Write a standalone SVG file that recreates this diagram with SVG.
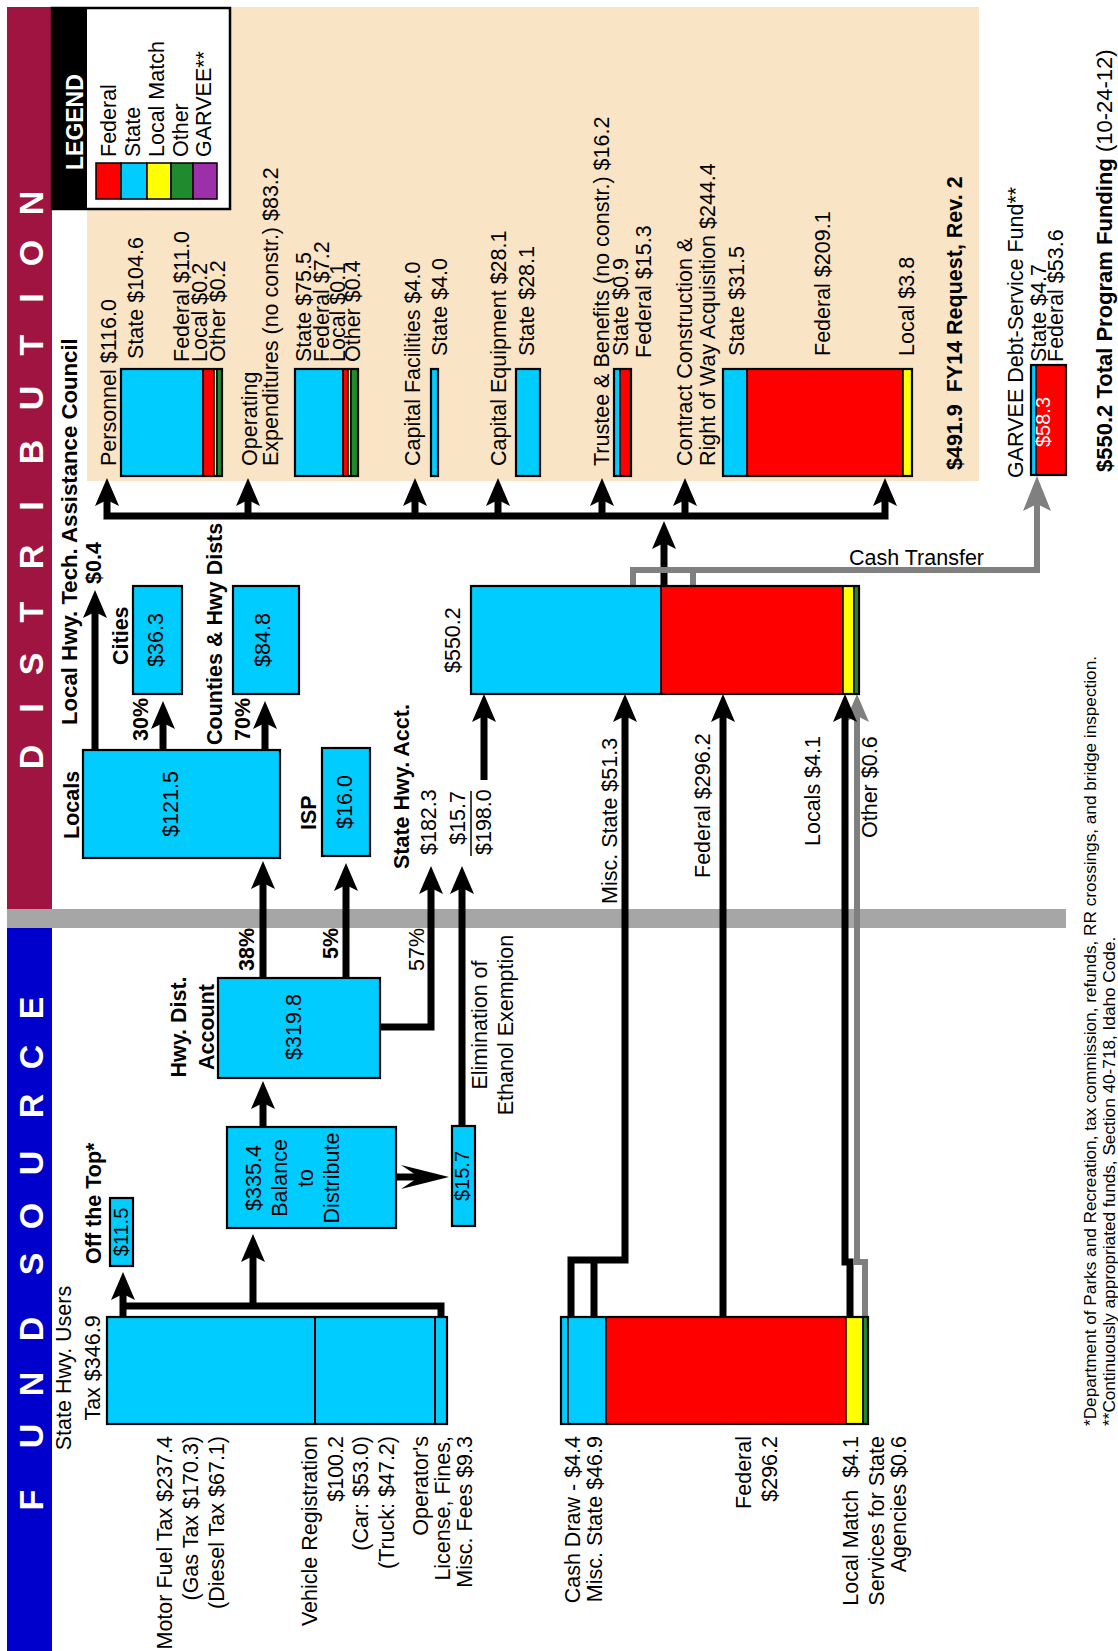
<svg xmlns="http://www.w3.org/2000/svg" width="1118" height="1651" viewBox="0 0 1118 1651">
<defs>
<style>
text{font-family:"Liberation Sans",Arial,Helvetica,sans-serif;font-size:21.5px;fill:#000}
.b{font-weight:bold}
.m{text-anchor:middle}
.e{text-anchor:end}
.ban{font-size:34px;font-weight:bold;fill:#fff;text-anchor:middle}
.sm{font-size:20px}
.fn{font-size:17.2px}
.cy{fill:#00CCFF}
.rd{fill:#FF0000}
.yl{fill:#FFFF00}
.gn{fill:#1E8C2E}
.pu{fill:#9B30A8}
.seg{stroke:#000;stroke-width:1.5}
.box{stroke:#000;stroke-width:2.2}
.ol{fill:none;stroke:#000;stroke-width:2.2}
.ln{fill:none;stroke:#000;stroke-width:7}
.gl{fill:none;stroke:#808080;stroke-width:6}
</style>
<path id="ah" d="M0,0 L12,28 L0,22 L-12,28 Z"/>
<path id="ahg" d="M0,0 L14,35 L0,28 L-14,35 Z"/>
</defs>
<rect width="1118" height="1651" fill="#fff"/>

<!-- side banners -->
<g id="banner">
<rect x="7" y="7" width="45" height="902" fill="#A01441"/>
<rect x="7" y="928" width="45" height="723" fill="#0000CC"/>
<text class="ban" transform="translate(43,0) rotate(-90)" x="-757 -708 -664 -612 -557 -506 -452 -398 -345 -298 -253 -203">DISTRIBUTION</text>
<text class="ban" transform="translate(43,0) rotate(-90)" x="-1500 -1436 -1384 -1329 -1264 -1216 -1163 -1106 -1057 -1008">FUNDSOURCE</text>
</g>

<!-- distribution panel background -->
<rect id="panel" x="87" y="7" width="892" height="474" fill="#FAE4C6"/>

<!-- divider between sources and distribution -->
<rect id="divider" x="7" y="909" width="1059" height="19" fill="#A6A6A6"/>

<g id="legend">
<rect x="52" y="8" width="178" height="201" fill="#fff" stroke="#000" stroke-width="2.5"/>
<rect x="52" y="8" width="35" height="201" fill="#000"/>
<text class="b" transform="translate(83,170) rotate(-90)" style="font-size:23px;fill:#fff">LEGEND</text>
<rect class="rd seg" x="96" y="163" width="25" height="36"/>
<rect class="cy seg" x="121" y="163" width="26" height="36"/>
<rect class="yl seg" x="147" y="163" width="24" height="36"/>
<rect class="gn seg" x="171" y="163" width="22" height="36"/>
<rect class="pu seg" x="193" y="163" width="24" height="36"/>
<text transform="translate(116,157) rotate(-90)">Federal</text>
<text transform="translate(140,157) rotate(-90)">State</text>
<text transform="translate(164,157) rotate(-90)">Local Match</text>
<text transform="translate(188,157) rotate(-90)">Other</text>
<text transform="translate(211,157) rotate(-90)">GARVEE**</text>
</g>

<!-- connectors -->
<g id="connectors">
<!-- distribution bus -->
<path class="ln" d="M103.5,516 H888.5 M107,516 V500 M248,516 V500 M415,516 V500 M498,516 V500 M602,516 V500 M685,516 V500 M885,516 V500"/>
<use href="#ah" x="107" y="478"/>
<use href="#ah" x="248" y="478"/>
<use href="#ah" x="415" y="478"/>
<use href="#ah" x="498" y="478"/>
<use href="#ah" x="602" y="478"/>
<use href="#ah" x="685" y="478"/>
<use href="#ah" x="885" y="478"/>
<!-- program total to bus -->
<path class="ln" d="M664,586 V543"/>
<use href="#ah" x="664" y="521"/>
<!-- cash transfer to GARVEE -->
<path class="gl" d="M633,586 V570 H1037 V504 M693,586 V570"/>
<use href="#ahg" x="1037" y="476" fill="#808080"/>
<!-- locals -->
<path class="ln" d="M95,750 V612 M163,750 V723 M265,750 V723"/>
<use href="#ah" x="95" y="590"/>
<use href="#ah" x="163" y="701"/>
<use href="#ah" x="265" y="701"/>
<!-- highway distribution account -->
<path class="ln" d="M263,978 V883 M346,978 V885 M380,1027 H431 V888 M462,1126 V888 M263,1128 V1103"/>
<use href="#ah" x="263" y="861"/>
<use href="#ah" x="346" y="863"/>
<use href="#ah" x="431" y="866"/>
<use href="#ah" x="462" y="866"/>
<use href="#ah" x="263" y="1081"/>
<path class="ln" d="M396,1177 H422"/>
<path d="M449,1177 L401,1165 L419,1177 L401,1189 Z"/>
<!-- users tax bus -->
<path class="ln" d="M441,1317 V1306 H123 M123,1317 V1294 M253,1306 V1256"/>
<use href="#ah" x="123" y="1272"/>
<use href="#ah" x="253" y="1234"/>
<!-- into program total -->
<path class="ln" d="M484,780 V716 M571,1317 V1260 H625 V716 M594,1317 V1260 M723,1317 V716"/>
<use href="#ah" x="484" y="694"/>
<use href="#ah" x="625" y="694"/>
<use href="#ah" x="723" y="694"/>
<path class="gl" d="M865,1317 V1262 H857 V716"/>
<use href="#ah" x="857" y="694" fill="#808080"/>
<path class="ln" d="M850,1317 V1262 H845 V716"/>
<use href="#ah" x="845" y="694"/>
<text x="849" y="565">Cash Transfer</text>
</g>

<!-- distribution categories -->
<g id="personnel">
<rect class="cy seg" x="121" y="369" width="82" height="107"/>
<rect class="rd seg" x="203" y="369" width="11" height="107"/>
<rect class="yl seg" x="214" y="369" width="3" height="107"/>
<rect class="gn seg" x="217" y="369" width="5" height="107"/>
<rect class="ol" x="121" y="369" width="101" height="107"/>
<text transform="translate(116,466) rotate(-90)">Personnel $116.0</text>
<text transform="translate(143,359) rotate(-90)">State $104.6</text>
<text transform="translate(189,362) rotate(-90)">Federal $11.0</text>
<text transform="translate(207,362) rotate(-90)">Local $0.2</text>
<text transform="translate(225,362) rotate(-90)">Other $0.2</text>
</g>

<g id="operating">
<rect class="cy seg" x="295" y="369" width="48" height="107"/>
<rect class="rd seg" x="343" y="369" width="5" height="107"/>
<rect class="yl seg" x="348" y="369" width="3" height="107"/>
<rect class="gn seg" x="351" y="369" width="7" height="107"/>
<rect class="ol" x="295" y="369" width="63" height="107"/>
<text transform="translate(257,466) rotate(-90)">Operating</text>
<text transform="translate(278,466) rotate(-90)">Expenditures (no constr.) $83.2</text>
<text transform="translate(311,362) rotate(-90)">State $75.5</text>
<text transform="translate(329,362) rotate(-90)">Federal $7.2</text>
<text transform="translate(345,362) rotate(-90)">Local $0.1</text>
<text transform="translate(360,362) rotate(-90)">Other $0.4</text>
</g>

<g id="capital-facilities">
<rect class="cy box" x="431" y="369" width="7" height="107"/>
<text transform="translate(420,466) rotate(-90)">Capital Facilities $4.0</text>
<text transform="translate(447,356) rotate(-90)">State $4.0</text>
</g>

<g id="capital-equipment">
<rect class="cy box" x="516" y="369" width="24" height="107"/>
<text transform="translate(506,466) rotate(-90)">Capital Equipment $28.1</text>
<text transform="translate(534,356) rotate(-90)">State $28.1</text>
</g>

<g id="trustee-benefits">
<rect class="cy seg" x="614" y="369" width="6" height="107"/>
<rect class="rd seg" x="620" y="369" width="11" height="107"/>
<rect class="ol" x="614" y="369" width="17" height="107"/>
<text transform="translate(609,466) rotate(-90)">Trustee &amp; Benefits (no constr.) $16.2</text>
<text transform="translate(628,356) rotate(-90)">State $0.9</text>
<text transform="translate(651,358) rotate(-90)">Federal $15.3</text>
</g>

<g id="contract-construction">
<rect class="cy seg" x="723" y="369" width="24" height="107"/>
<rect class="rd seg" x="747" y="369" width="156" height="107"/>
<rect class="yl seg" x="903" y="369" width="9" height="107"/>
<rect class="ol" x="723" y="369" width="189" height="107"/>
<text transform="translate(692,466) rotate(-90)">Contract Construction &amp;</text>
<text transform="translate(715,466) rotate(-90)">Right of Way Acquisition $244.4</text>
<text transform="translate(744,356) rotate(-90)">State $31.5</text>
<text transform="translate(830,356) rotate(-90)">Federal $209.1</text>
<text transform="translate(914,356) rotate(-90)">Local $3.8</text>
</g>

<g id="fy14-request">
<text class="b" transform="translate(962,470) rotate(-90)">$491.9&#160; FY14 Request, Rev. 2</text>
</g>

<g id="garvee">
<rect class="cy seg" x="1031" y="365" width="5" height="110"/>
<rect class="rd seg" x="1036" y="365" width="30" height="110"/>
<rect class="ol" x="1031" y="365" width="35" height="110"/>
<text class="sm" transform="translate(1050,447) rotate(-90)" style="fill:#fff">$58.3</text>
<text transform="translate(1023,478) rotate(-90)">GARVEE Debt-Service Fund**</text>
<text transform="translate(1046,362) rotate(-90)">State $4.7</text>
<text transform="translate(1063,362) rotate(-90)">Federal $53.6</text>
</g>

<g id="total-funding">
<text transform="translate(1112,472) rotate(-90)" style="font-size:22px"><tspan class="b">$550.2 Total Program Funding</tspan> (10-24-12)</text>
</g>

<!-- locals -->
<g id="locals">
<rect class="cy box" x="83" y="750" width="197" height="108"/>
<text class="b" transform="translate(79,839) rotate(-90)">Locals</text>
<text class="m" transform="translate(178,804) rotate(-90)">$121.5</text>
<text class="b" transform="translate(77,725) rotate(-90)" style="font-size:22.2px">Local Hwy. Tech. Assistance Council</text>
<text class="b" transform="translate(101,584) rotate(-90)">$0.4</text>
</g>
<g id="cities">
<rect class="cy box" x="133" y="586" width="49" height="108"/>
<text class="m" transform="translate(163,640) rotate(-90)">$36.3</text>
<text class="b" transform="translate(128,665) rotate(-90)">Cities</text>
<text class="b" transform="translate(148,741) rotate(-90)">30%</text>
</g>
<g id="counties">
<rect class="cy box" x="233" y="586" width="66" height="108"/>
<text class="m" transform="translate(270,640) rotate(-90)">$84.8</text>
<text class="b" transform="translate(222,745) rotate(-90)">Counties &amp; Hwy Dists</text>
<text class="b" transform="translate(250,741) rotate(-90)">70%</text>
</g>
<g id="isp">
<rect class="cy box" x="322" y="748" width="48" height="108"/>
<text class="m" transform="translate(352,802) rotate(-90)">$16.0</text>
<text class="b" transform="translate(316,830) rotate(-90)">ISP</text>
</g>

<g id="state-hwy-acct">
<text class="b" transform="translate(409,869) rotate(-90)">State Hwy. Acct.</text>
<text transform="translate(436,855) rotate(-90)">$182.3</text>
<text class="e" transform="translate(465,791) rotate(-90)">$15.7</text>
<line x1="471" y1="856" x2="471" y2="791" stroke="#000" stroke-width="1.5"/>
<text transform="translate(491,855) rotate(-90)">$198.0</text>
</g>

<g id="program-total">
<rect class="cy seg" x="471" y="586" width="190" height="108"/>
<rect class="rd seg" x="661" y="586" width="182" height="108"/>
<rect class="yl seg" x="843" y="586" width="11" height="108"/>
<rect class="gn seg" x="854" y="586" width="5" height="108"/>
<rect class="ol" x="471" y="586" width="388" height="108"/>
<text transform="translate(460,673) rotate(-90)">$550.2</text>
<text transform="translate(617,904) rotate(-90)">Misc. State $51.3</text>
<text transform="translate(710,878) rotate(-90)">Federal $296.2</text>
<text transform="translate(820,846) rotate(-90)">Locals $4.1</text>
<text transform="translate(877,838) rotate(-90)">Other $0.6</text>
</g>

<!-- fund sources -->
<g id="hwy-dist-account">
<rect class="cy box" x="218" y="978" width="162" height="100"/>
<text class="m" transform="translate(301,1027) rotate(-90)">$319.8</text>
<text class="b m" transform="translate(186,1027) rotate(-90)">Hwy. Dist.</text>
<text class="b m" transform="translate(214,1027) rotate(-90)">Account</text>
<text class="b" transform="translate(254,971) rotate(-90)">38%</text>
<text class="b" transform="translate(338,959) rotate(-90)">5%</text>
<text transform="translate(424,971) rotate(-90)">57%</text>
</g>

<g id="balance">
<rect class="cy box" x="227" y="1127" width="169" height="101"/>
<text class="m" transform="translate(261,1178) rotate(-90)">$335.4</text>
<text class="m" transform="translate(287,1178) rotate(-90)">Balance</text>
<text class="m" transform="translate(313,1178) rotate(-90)">to</text>
<text class="m" transform="translate(339,1178) rotate(-90)">Distribute</text>
</g>

<g id="ethanol">
<rect class="cy box" x="452" y="1126" width="23" height="100"/>
<text class="m sm" transform="translate(469,1176) rotate(-90)">$15.7</text>
<text class="m" transform="translate(487,1025) rotate(-90)">Elimination of</text>
<text class="m" transform="translate(513,1025) rotate(-90)">Ethanol Exemption</text>
</g>

<g id="off-the-top">
<rect class="cy box" x="110" y="1198" width="23" height="68"/>
<text class="m sm" transform="translate(128,1232) rotate(-90)">$11.5</text>
<text class="b" transform="translate(101,1264) rotate(-90)">Off the Top*</text>
</g>

<g id="users-tax">
<rect class="cy box" x="107" y="1317" width="340" height="107"/>
<line x1="315" y1="1317" x2="315" y2="1424" stroke="#000" stroke-width="2"/>
<line x1="435" y1="1317" x2="435" y2="1424" stroke="#000" stroke-width="2"/>
<text class="m" transform="translate(71,1368) rotate(-90)">State Hwy. Users</text>
<text class="m" transform="translate(100,1368) rotate(-90)">Tax $346.9</text>
<text class="e" transform="translate(172,1436) rotate(-90)">Motor Fuel Tax $237.4</text>
<text class="e" transform="translate(198,1436) rotate(-90)">(Gas Tax $170.3)</text>
<text class="e" transform="translate(224,1436) rotate(-90)">(Diesel Tax $67.1)</text>
<text class="e" transform="translate(317,1436) rotate(-90)">Vehicle Registration</text>
<text class="e" transform="translate(343,1436) rotate(-90)">$100.2</text>
<text class="e" transform="translate(368,1436) rotate(-90)">(Car: $53.0)</text>
<text class="e" transform="translate(394,1436) rotate(-90)">(Truck: $47.2)</text>
<text class="e" transform="translate(428,1436) rotate(-90)">Operator's</text>
<text class="e" transform="translate(450,1436) rotate(-90)">License, Fines,</text>
<text class="e" transform="translate(472,1436) rotate(-90)">Misc. Fees $9.3</text>
</g>

<g id="other-sources">
<rect class="cy seg" x="561" y="1317" width="7" height="107"/>
<rect class="cy seg" x="568" y="1317" width="38" height="107"/>
<rect class="rd seg" x="606" y="1317" width="240" height="107"/>
<rect class="yl seg" x="846" y="1317" width="17" height="107"/>
<rect class="gn seg" x="863" y="1317" width="5" height="107"/>
<rect class="ol" x="561" y="1317" width="307" height="107"/>
<text class="e" transform="translate(580,1436) rotate(-90)">Cash Draw - $4.4</text>
<text class="e" transform="translate(602,1436) rotate(-90)">Misc. State $46.9</text>
<text class="e" transform="translate(751,1436) rotate(-90)">Federal</text>
<text class="e" transform="translate(777,1436) rotate(-90)">$296.2</text>
<text class="e" transform="translate(858,1436) rotate(-90)">Local Match&#160; $4.1</text>
<text class="e" transform="translate(884,1436) rotate(-90)">Services for State</text>
<text class="e" transform="translate(906,1436) rotate(-90)">Agencies $0.6</text>
</g>

<g id="footnotes">
<text class="fn" transform="translate(1096,1426) rotate(-90)">*Department of Parks and Recreation, tax commission, refunds, RR crossings, and bridge inspection.</text>
<text class="fn" transform="translate(1115,1426) rotate(-90)">**Continuously appropriated funds, Section 40-718, Idaho Code.</text>
</g>
</svg>
